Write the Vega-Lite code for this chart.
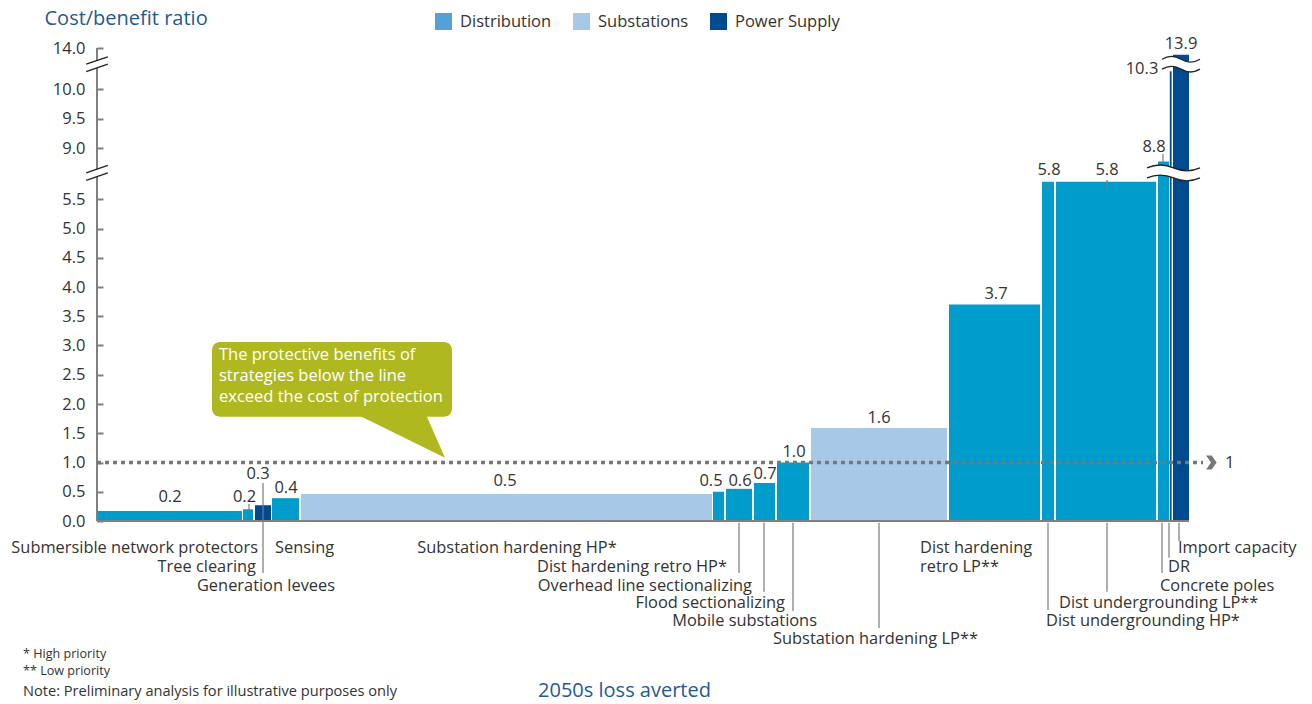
{
  "$schema": "https://vega.github.io/schema/vega-lite/v6.json",
  "width": 1200,
  "height": 610,
  "autosize": {"type": "none"},
  "padding": {"left": 97, "top": 40, "right": 15, "bottom": 54},
  "background": "white",
  "config": {"view": {"stroke": null}, "font": "Open Sans"},
  "datasets": {
    "bars": [
      {"name": "Submersible network protectors", "category": "Distribution", "x0": 0, "x1": 145, "value": 0.17},
      {"name": "Tree clearing", "category": "Distribution", "x0": 146, "x1": 156, "value": 0.2},
      {"name": "Generation levees", "category": "Power Supply", "x0": 158, "x1": 174, "value": 0.27},
      {"name": "Sensing", "category": "Distribution", "x0": 175, "x1": 202, "value": 0.39},
      {"name": "Substation hardening HP*", "category": "Substations", "x0": 204, "x1": 615, "value": 0.46},
      {"name": "Dist hardening retro HP*", "category": "Distribution", "x0": 616, "x1": 627, "value": 0.5},
      {"name": "Overhead line sectionalizing", "category": "Distribution", "x0": 629, "x1": 655, "value": 0.55},
      {"name": "Flood sectionalizing", "category": "Distribution", "x0": 657, "x1": 678, "value": 0.65},
      {"name": "Mobile substations", "category": "Distribution", "x0": 680, "x1": 712, "value": 1.0},
      {"name": "Substation hardening LP**", "category": "Substations", "x0": 714, "x1": 850, "value": 1.59},
      {"name": "Dist hardening retro LP**", "category": "Distribution", "x0": 852, "x1": 943, "value": 3.7},
      {"name": "Dist undergrounding HP*", "category": "Distribution", "x0": 945, "x1": 957, "value": 5.8},
      {"name": "Dist undergrounding LP**", "category": "Distribution", "x0": 959, "x1": 1059, "value": 5.8},
      {"name": "Concrete poles", "category": "Distribution", "x0": 1061, "x1": 1072, "value": 8.77},
      {"name": "DR", "category": "Power Supply", "x0": 1072.8, "x1": 1074.6, "value": 10.3},
      {"name": "Import capacity", "category": "Power Supply", "x0": 1076, "x1": 1092, "value": 13.9}
    ],
    "legendItems": [
      {"group": "Distribution"},
      {"group": "Substations"},
      {"group": "Power Supply"}
    ],
    "valueLabels": [
      {"label": "0.2", "lx": 73, "ly": 0.41},
      {"label": "0.2", "lx": 147.5, "ly": 0.41},
      {"label": "0.3", "lx": 161, "ly": 0.8},
      {"label": "0.4", "lx": 189, "ly": 0.56},
      {"label": "0.5", "lx": 408, "ly": 0.68},
      {"label": "0.5", "lx": 614, "ly": 0.68},
      {"label": "0.6", "lx": 643, "ly": 0.68},
      {"label": "0.7", "lx": 668, "ly": 0.8},
      {"label": "1.0", "lx": 697, "ly": 1.18},
      {"label": "1.6", "lx": 782, "ly": 1.76},
      {"label": "3.7", "lx": 899, "ly": 3.88},
      {"label": "5.8", "lx": 952, "ly": 6.0},
      {"label": "5.8", "lx": 1010, "ly": 6.0},
      {"label": "8.8", "lx": 1057, "ly": 9.02},
      {"label": "10.3", "lx": 1045, "ly": 10.34},
      {"label": "13.9", "lx": 1084, "ly": 14.06}
    ],
    "leaders": [
      {"x": 166, "top": 0.65, "bottom": -0.89},
      {"x": 642, "top": -0.03, "bottom": -0.89},
      {"x": 667, "top": -0.03, "bottom": -1.21},
      {"x": 696, "top": -0.03, "bottom": -1.54},
      {"x": 782, "top": -0.03, "bottom": -1.83},
      {"x": 951, "top": -0.03, "bottom": -1.52},
      {"x": 1010, "top": -0.03, "bottom": -1.21},
      {"x": 1065, "top": -0.03, "bottom": -0.89},
      {"x": 1072, "top": -0.03, "bottom": -0.63},
      {"x": 1082, "top": -0.03, "bottom": -0.34},
      {"x": 152, "top": 0.29, "bottom": 0.17},
      {"x": 952, "top": 5.78, "bottom": 5.66},
      {"x": 1010, "top": 5.83, "bottom": 5.68},
      {"x": 1066, "top": 8.9, "bottom": 8.75}
    ],
    "axisLines": [
      {"x": 0, "x2": 1092, "y": 0, "y2": 0},
      {"x": 0, "x2": 0, "y": 0, "y2": 14}
    ],
    "labelsRight": [
      {"text": "Submersible network protectors", "x": 161, "y": -0.462},
      {"text": "Tree clearing", "x": 159, "y": -0.786},
      {"text": "Dist hardening retro HP*", "x": 630, "y": -0.786},
      {"text": "Overhead line sectionalizing", "x": 655, "y": -1.103},
      {"text": "Flood sectionalizing", "x": 688, "y": -1.402},
      {"text": "Mobile substations", "x": 720, "y": -1.709}
    ],
    "labelsCenter": [
      {"text": "Generation levees", "x": 169, "y": -1.103},
      {"text": "Substation hardening HP*", "x": 420, "y": -0.462}
    ],
    "labelsLeft": [
      {"text": "Sensing", "x": 178, "y": -0.462},
      {"text": "Substation hardening LP**", "x": 676, "y": -2.017},
      {"text": "Dist hardening", "x": 823, "y": -0.462},
      {"text": "retro LP**", "x": 823, "y": -0.786},
      {"text": "Dist undergrounding LP**", "x": 962, "y": -1.402},
      {"text": "Dist undergrounding HP*", "x": 949, "y": -1.709},
      {"text": "Concrete poles", "x": 1063, "y": -1.103},
      {"text": "DR", "x": 1071, "y": -0.786},
      {"text": "Import capacity", "x": 1081, "y": -0.462}
    ],
    "notesSmall": [
      {"text": "* High priority", "x": -74, "y": -2.27},
      {"text": "** Low priority", "x": -74, "y": -2.56}
    ],
    "notesBig": [
      {"text": "Note: Preliminary analysis for illustrative purposes only", "x": -74, "y": -2.92}
    ],
    "callout": [
      {"x": 115, "x2": 355, "y": 3.06, "y2": 1.78, "tipX": 348, "tipY": 1.08, "textX": 122, "textY": 2.97,
       "text": "The protective benefits of\nstrategies below the line\nexceed the cost of protection"}
    ],
    "axisBreaks": [
      {"x": 0, "y": 5.95},
      {"x": 0, "y": 10.42}
    ],
    "barBreakLow": [{"x": 1076.5, "y": 5.95}],
    "barBreakHigh": [{"x": 1084, "y": 10.42}],
    "threshold": [{"x": 0, "x2": 1106, "arrowX": 1114, "labelX": 1128, "y": 1}]
  },
  "layer": [
    {
      "data": {"name": "bars"},
      "mark": {"type": "rect"},
      "encoding": {
        "x": {
          "field": "x0", "type": "quantitative",
          "scale": {"domain": [0, 1200], "nice": false, "zero": false},
          "axis": {
            "title": "2050s loss averted", "labels": false, "ticks": false, "domain": false, "grid": false,
            "titleColor": "#1f5a96", "titleFontSize": 20, "titleFontWeight": "normal",
            "titlePadding": 30, "titleX": 527
          }
        },
        "x2": {"field": "x1"},
        "y": {
          "field": "value", "type": "quantitative",
          "scale": {
            "domain": [-2.2, 0, 6.1, 8.5, 10.6, 13.7, 14],
            "range": [609.7, 481, 124.15, 137.5, 13.6, 28.4, 8],
            "nice": false, "zero": false
          },
          "axis": {
            "values": [0, 0.5, 1, 1.5, 2, 2.5, 3, 3.5, 4, 4.5, 5, 5.5, 9, 9.5, 10, 14],
            "format": ".1f", "domain": false, "grid": false, "offset": -6,
            "tickSize": 6, "tickColor": "#808080", "tickWidth": 2,
            "labelPadding": 12, "labelFontSize": 16.5, "labelColor": "#333333", "labelFlush": false, "labelOverlap": false,
            "title": "Cost/benefit ratio", "titleAngle": 0, "titleAlign": "left", "titleBaseline": "alphabetic",
            "titleX": -59, "titleY": -16, "titleColor": "#1f5a96", "titleFontSize": 20, "titleFontWeight": "normal"
          }
        },
        "y2": {"datum": 0},
        "fill": {
          "field": "category", "type": "nominal",
          "scale": {"domain": ["Distribution", "Power Supply", "Substations"], "range": ["#009ccb", "#004b8f", "#a7c8e7"]},
          "legend": null
        }
      }
    },
    {
      "data": {"name": "legendItems"},
      "mark": {"type": "square", "size": 0},
      "encoding": {
        "x": {"datum": 0, "type": "quantitative"},
        "y": {"datum": 0, "type": "quantitative"},
        "color": {
          "field": "group", "type": "nominal",
          "scale": {"domain": ["Distribution", "Substations", "Power Supply"], "range": ["#52a2d8", "#a8c8e8", "#004b8f"]},
          "legend": {
            "orient": "none", "legendX": 338, "legendY": -27, "direction": "horizontal", "title": null,
            "symbolType": "square", "symbolSize": 289, "symbolStrokeWidth": 0, "symbolOpacity": 1,
            "labelFontSize": 16.5, "labelColor": "#333333", "labelOffset": 8, "columnPadding": 21, "padding": 0
          }
        }
      }
    },
    {
      "data": {"name": "callout"},
      "mark": {"type": "rect", "cornerRadius": 8, "fill": "#afb91f"},
      "encoding": {
        "x": {"field": "x", "type": "quantitative"},
        "x2": {"field": "x2"},
        "y": {"field": "y", "type": "quantitative"},
        "y2": {"field": "y2"}
      }
    },
    {
      "data": {"name": "callout"},
      "mark": {"type": "point", "shape": "M 0 0 L -1.75 -0.86 L -0.38 -0.86 Z", "filled": true, "fill": "#afb91f", "opacity": 1, "size": 10000, "strokeWidth": 0},
      "encoding": {
        "x": {"field": "tipX", "type": "quantitative"},
        "y": {"field": "tipY", "type": "quantitative"}
      }
    },
    {
      "data": {"name": "callout"},
      "mark": {"type": "text", "align": "left", "baseline": "top", "lineBreak": "\n", "lineHeight": 21, "fontSize": 16.5, "color": "white"},
      "encoding": {
        "x": {"field": "textX", "type": "quantitative"},
        "y": {"field": "textY", "type": "quantitative"},
        "text": {"field": "text"}
      }
    },
    {
      "data": {"name": "axisLines"},
      "mark": {"type": "rule", "color": "#808080", "strokeWidth": 2},
      "encoding": {
        "x": {"field": "x", "type": "quantitative"},
        "x2": {"field": "x2"},
        "y": {"field": "y", "type": "quantitative"},
        "y2": {"field": "y2"}
      }
    },
    {
      "data": {"name": "leaders"},
      "mark": {"type": "rule", "color": "#7a7a7a", "strokeWidth": 1.2},
      "encoding": {
        "x": {"field": "x", "type": "quantitative"},
        "y": {"field": "top", "type": "quantitative"},
        "y2": {"field": "bottom"}
      }
    },
    {
      "data": {"name": "threshold"},
      "mark": {"type": "rule", "color": "#777777", "strokeWidth": 3.5, "strokeDash": [4, 4]},
      "encoding": {
        "x": {"field": "x", "type": "quantitative"},
        "x2": {"field": "x2"},
        "y": {"field": "y", "type": "quantitative"}
      }
    },
    {
      "data": {"name": "threshold"},
      "mark": {"type": "point", "shape": "M -0.7 -1 L 0.1 -1 L 0.8 0 L 0.1 1 L -0.7 1 L 0 0 Z", "filled": true, "fill": "#777777", "opacity": 1, "size": 196, "strokeWidth": 0},
      "encoding": {
        "x": {"field": "arrowX", "type": "quantitative"},
        "y": {"field": "y", "type": "quantitative"}
      }
    },
    {
      "data": {"name": "threshold"},
      "mark": {"type": "text", "align": "left", "baseline": "middle", "fontSize": 16.5, "color": "#333333"},
      "encoding": {
        "x": {"field": "labelX", "type": "quantitative"},
        "y": {"field": "y", "type": "quantitative"},
        "text": {"value": "1"}
      }
    },
    {
      "data": {"name": "axisBreaks"},
      "mark": {"type": "point", "shape": "M -0.9 0 L 0.9 -0.62 L 0.9 0 L -0.9 0.62 Z", "filled": true, "fill": "white", "opacity": 1, "size": 576, "strokeWidth": 0},
      "encoding": {
        "x": {"field": "x", "type": "quantitative"},
        "y": {"field": "y", "type": "quantitative"}
      }
    },
    {
      "data": {"name": "axisBreaks"},
      "mark": {"type": "point", "shape": "M -0.9 0 L 0.9 -0.62 M -0.9 0.62 L 0.9 0", "filled": false, "stroke": "#222222", "opacity": 1, "size": 576, "strokeWidth": 1.3},
      "encoding": {
        "x": {"field": "x", "type": "quantitative"},
        "y": {"field": "y", "type": "quantitative"}
      }
    },
    {
      "data": {"name": "barBreakLow"},
      "mark": {"type": "point", "shape": "M -1 -0.19 Q -0.5 -0.41 0 -0.19 Q 0.5 0.03 1 -0.19 L 1 0.19 Q 0.5 0.41 0 0.19 Q -0.5 -0.03 -1 0.19 Z", "filled": true, "fill": "white", "opacity": 1, "size": 2809, "strokeWidth": 0},
      "encoding": {
        "x": {"field": "x", "type": "quantitative"},
        "y": {"field": "y", "type": "quantitative"}
      }
    },
    {
      "data": {"name": "barBreakLow"},
      "mark": {"type": "point", "shape": "M -1 -0.19 Q -0.5 -0.41 0 -0.19 Q 0.5 0.03 1 -0.19 M -1 0.19 Q -0.5 -0.03 0 0.19 Q 0.5 0.41 1 0.19", "filled": false, "stroke": "#222222", "opacity": 1, "size": 2809, "strokeWidth": 1.3},
      "encoding": {
        "x": {"field": "x", "type": "quantitative"},
        "y": {"field": "y", "type": "quantitative"}
      }
    },
    {
      "data": {"name": "barBreakHigh"},
      "mark": {"type": "point", "shape": "M -1 -0.26 Q -0.5 -0.56 0 -0.26 Q 0.5 0.04 1 -0.26 L 1 0.26 Q 0.5 0.56 0 0.26 Q -0.5 -0.04 -1 0.26 Z", "filled": true, "fill": "white", "opacity": 1, "size": 1444, "strokeWidth": 0},
      "encoding": {
        "x": {"field": "x", "type": "quantitative"},
        "y": {"field": "y", "type": "quantitative"}
      }
    },
    {
      "data": {"name": "barBreakHigh"},
      "mark": {"type": "point", "shape": "M -1 -0.26 Q -0.5 -0.56 0 -0.26 Q 0.5 0.04 1 -0.26 M -1 0.26 Q -0.5 -0.04 0 0.26 Q 0.5 0.56 1 0.26", "filled": false, "stroke": "#222222", "opacity": 1, "size": 1444, "strokeWidth": 1.3},
      "encoding": {
        "x": {"field": "x", "type": "quantitative"},
        "y": {"field": "y", "type": "quantitative"}
      }
    },
    {
      "data": {"name": "valueLabels"},
      "mark": {"type": "text", "align": "center", "baseline": "middle", "fontSize": 16.5, "color": "#333333"},
      "encoding": {
        "x": {"field": "lx", "type": "quantitative"},
        "y": {"field": "ly", "type": "quantitative"},
        "text": {"field": "label"}
      }
    },
    {
      "data": {"name": "labelsRight"},
      "mark": {"type": "text", "align": "right", "baseline": "middle", "fontSize": 16.4, "color": "#333333"},
      "encoding": {
        "x": {"field": "x", "type": "quantitative"},
        "y": {"field": "y", "type": "quantitative"},
        "text": {"field": "text"}
      }
    },
    {
      "data": {"name": "labelsCenter"},
      "mark": {"type": "text", "align": "center", "baseline": "middle", "fontSize": 16.4, "color": "#333333"},
      "encoding": {
        "x": {"field": "x", "type": "quantitative"},
        "y": {"field": "y", "type": "quantitative"},
        "text": {"field": "text"}
      }
    },
    {
      "data": {"name": "labelsLeft"},
      "mark": {"type": "text", "align": "left", "baseline": "middle", "fontSize": 16.4, "color": "#333333"},
      "encoding": {
        "x": {"field": "x", "type": "quantitative"},
        "y": {"field": "y", "type": "quantitative"},
        "text": {"field": "text"}
      }
    },
    {
      "data": {"name": "notesSmall"},
      "mark": {"type": "text", "align": "left", "baseline": "middle", "fontSize": 12.6, "color": "#333333"},
      "encoding": {
        "x": {"field": "x", "type": "quantitative"},
        "y": {"field": "y", "type": "quantitative"},
        "text": {"field": "text"}
      }
    },
    {
      "data": {"name": "notesBig"},
      "mark": {"type": "text", "align": "left", "baseline": "middle", "fontSize": 14.6, "color": "#333333"},
      "encoding": {
        "x": {"field": "x", "type": "quantitative"},
        "y": {"field": "y", "type": "quantitative"},
        "text": {"field": "text"}
      }
    }
  ]
}
